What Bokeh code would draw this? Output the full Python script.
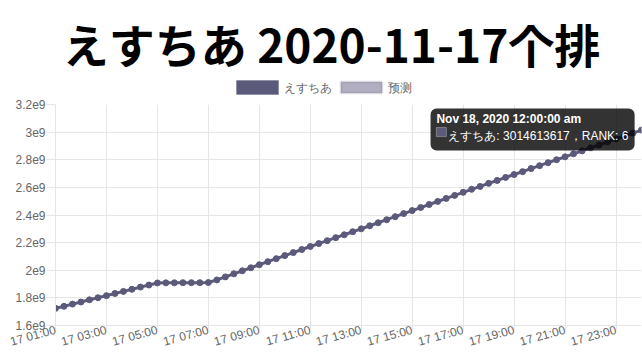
import pandas as pd
from bokeh.plotting import figure
from bokeh.layouts import column
from bokeh.models import (FixedTicker, DatetimeTickFormatter,
                          BoxAnnotation, Label, Range1d)
from bokeh.embed import file_html
from bokeh.resources import INLINE

title_text = "えすちあ 2020-11-17个排"
series_name = "えすちあ"
forecast_name = "预测"
start_time = "2020-11-17 01:00"
tooltip_title = "Nov 18, 2020 12:00:00 am"
tooltip_rank = 6

values = [
    1724000000, 1739000000, 1755000000, 1770000000, 1786000000, 1801000000,
    1816000000, 1832000000, 1847000000, 1862000000, 1878000000, 1893000000,
    1908000000, 1909000000, 1909000000, 1910000000, 1910000000, 1910000000,
    1911000000, 1930000000, 1952000000, 1974000000, 1996000000, 2018000000,
    2040000000, 2062000000, 2084000000, 2106000000, 2128000000, 2150000000,
    2172000000, 2193000000, 2214000000, 2236000000, 2257000000, 2279000000,
    2300000000, 2322000000, 2344000000, 2366000000, 2388000000, 2410000000,
    2432000000, 2454000000, 2476000000, 2498000000, 2520000000, 2542000000,
    2564000000, 2586000000, 2607000000, 2629000000, 2650000000, 2672000000,
    2693000000, 2714000000, 2736000000, 2757000000, 2779000000, 2800000000,
    2821000000, 2843000000, 2864000000, 2886000000, 2907000000, 2929000000,
    2950000000, 2972000000, 2993000000, 3014613617,
]

y_ticks = [1.6e9, 1.8e9, 2.0e9, 2.2e9, 2.4e9, 2.6e9, 2.8e9, 3.0e9, 3.2e9]
y_tick_labels = ["1.6e9", "1.8e9", "2e9", "2.2e9", "2.4e9", "2.6e9", "2.8e9", "3e9", "3.2e9"]
x_tick_hours = ["01:00", "03:00", "05:00", "07:00", "09:00", "11:00",
                "13:00", "15:00", "17:00", "19:00", "21:00", "23:00"]

times = pd.date_range(start_time, periods=len(values), freq="20min")
x_ticks_ms = [int(pd.Timestamp("2020-11-17 " + h).value // 10**6) for h in x_tick_hours]

MAIN = "#5b5a7b"
FC_FILL = "#b0aec0"
FC_LINE = "#85839e"
GRID = "#e6e6e6"
FONT = "Liberation Sans"
W = 642
HEAD_H = 96
BL, BR = 55, 1

# ---------- header: title + legend (canvas-pixel coordinates) ----------
head = figure(width=W, height=HEAD_H, output_backend="svg", toolbar_location=None,
              x_range=Range1d(BL, W - BR), y_range=Range1d(0, HEAD_H),
              min_border_left=BL, min_border_right=BR, min_border_top=0,
              min_border_bottom=0, x_axis_location=None, y_axis_location=None)
head.grid.visible = False
head.outline_line_color = None
head.add_layout(Label(x=331, y=HEAD_H - 42, text=title_text,
                      text_font="Noto Sans CJK JP", text_font_size="46px",
                      text_font_style="bold", text_color="#000000",
                      text_align="center", text_baseline="middle"))

legend_y_top, legend_y_bot = HEAD_H - 80, HEAD_H - 94
head.add_layout(BoxAnnotation(left=236, right=278, top=legend_y_top, bottom=legend_y_bot,
                              fill_color=MAIN, fill_alpha=1, line_color=MAIN, line_width=1))
head.add_layout(Label(x=283, y=(legend_y_top + legend_y_bot) / 2, text=series_name,
                      text_font=FONT, text_font_size="12px", text_color="#666666",
                      text_baseline="middle", text_align="left"))
head.add_layout(BoxAnnotation(left=340.5, right=381.5, top=legend_y_top - 1.5,
                              bottom=legend_y_bot + 1.5,
                              fill_color=FC_FILL, fill_alpha=1, line_color=FC_LINE,
                              line_width=2.5))
head.add_layout(Label(x=387, y=(legend_y_top + legend_y_bot) / 2, text=forecast_name,
                      text_font=FONT, text_font_size="12px", text_color="#666666",
                      text_baseline="middle", text_align="left"))

# ---------- main chart ----------
p = figure(width=W, height=358 - HEAD_H, x_axis_type="datetime",
           output_backend="svg", toolbar_location=None,
           x_range=Range1d(times[0], times[-1]),
           y_range=Range1d(y_ticks[0], y_ticks[-1]),
           min_border_left=BL, min_border_right=BR, min_border_bottom=0,
           min_border_top=8)
p.outline_line_color = None

p.xaxis.ticker = FixedTicker(ticks=x_ticks_ms)
fmt = "%d %H:%M"
p.xaxis.formatter = DatetimeTickFormatter(
    microseconds=fmt, milliseconds=fmt, seconds=fmt, minsec=fmt, minutes=fmt,
    hourmin=fmt, hours=fmt, days=fmt, months=fmt, years=fmt)
p.xaxis.major_label_orientation = 0.27
p.yaxis.ticker = FixedTicker(ticks=y_ticks)
p.yaxis.major_label_overrides = {t: l for t, l in zip(y_ticks, y_tick_labels)}

for ax in (p.xaxis, p.yaxis):
    ax.axis_line_color = GRID
    ax.major_tick_line_color = GRID
    ax.minor_tick_line_color = None
    ax.major_tick_in = 0
    ax.major_label_text_font = FONT
    ax.major_label_text_font_size = "12px"
    ax.major_label_text_color = "#666666"
p.yaxis.major_tick_out = 9
p.yaxis.major_label_standoff = 1
p.xaxis.major_tick_out = 4
p.xaxis.major_label_standoff = 0
p.xaxis.major_label_text_line_height = 1.0

p.xgrid.grid_line_color = GRID
p.ygrid.grid_line_color = GRID

p.line(times, values, line_width=3, color=MAIN)
p.scatter(times, values, size=6, color=MAIN)

# tooltip anchored to the last point
hour = 3600 * 1000
ax_ms = times[-1].value // 10**6
ay = values[-1]
p.add_layout(BoxAnnotation(left=ax_ms - 8.28 * hour, right=ax_ms - 0.27 * hour,
                           top=ay + 0.156e9, bottom=ay - 0.147e9,
                           fill_color="black", fill_alpha=0.8, line_color=None,
                           border_radius=6))
p.add_layout(Label(x=ax_ms - 8.05 * hour, y=ay + 0.077e9, text=tooltip_title,
                   text_font=FONT, text_font_size="12px", text_font_style="bold",
                   text_color="white", text_baseline="middle", text_align="left"))
p.add_layout(BoxAnnotation(left=ax_ms - 8.05 * hour, right=ax_ms - 7.66 * hour,
                           top=ay + 0.019e9, bottom=ay - 0.047e9,
                           fill_color=MAIN, fill_alpha=1, line_color="white",
                           line_width=1))
p.add_layout(Label(x=ax_ms - 7.58 * hour, y=ay - 0.046e9,
                   text=f"{series_name}: {values[-1]}，RANK: {tooltip_rank}",
                   text_font=FONT, text_font_size="12px",
                   text_color="white", text_baseline="middle", text_align="left"))

layout = column(head, p, spacing=0)
open("out.html", "w").write(file_html(layout, INLINE))
